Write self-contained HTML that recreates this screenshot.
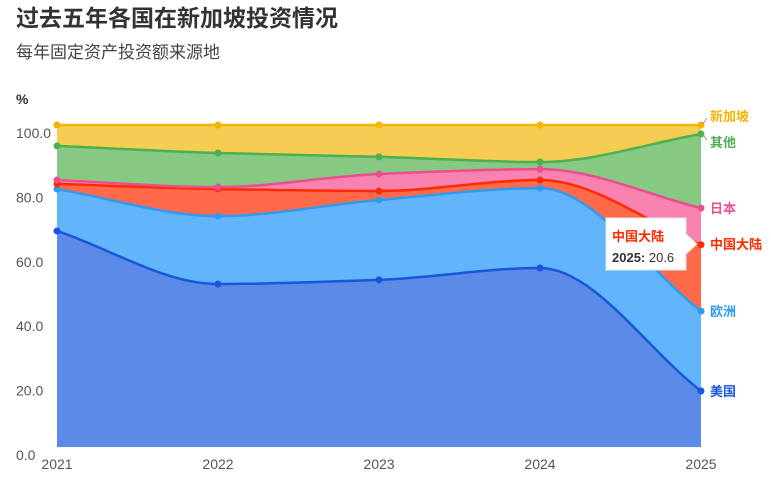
<!DOCTYPE html>
<html><head><meta charset="utf-8"><style>
body{margin:0;background:#fff;font-family:"Liberation Sans","Noto Sans CJK SC",sans-serif;}
svg text{font-family:"Liberation Sans","Noto Sans CJK SC",sans-serif;}
</style></head><body>
<svg id="c" width="771" height="483">
<text x="16" y="26" font-size="23" font-weight="bold" fill="#333">过去五年各国在新加坡投资情况</text>
<text x="16" y="58" font-size="17" fill="#444">每年固定资产投资额来源地</text>
<text x="16" y="104" font-size="14" font-weight="bold" fill="#333">%</text>
<g id="grid"></g><g id="areas"></g><g id="lines"></g><g id="labels"></g>
<g>
<path d="M606,218 H686 V234 L697,244 L686,254 V270 H606 Z" fill="#fff" stroke="#e6e6e6" stroke-width="1"/>
<text x="612" y="241" font-size="13" font-weight="bold" fill="#ff2a00">中国大陆</text>
<text x="612" y="262" font-size="13" fill="#333"><tspan font-weight="bold">2025:</tspan> 20.6</text>
</g>
</svg>
<script>
const years=["2021","2022","2023","2024","2025"];
const names=["美国","欧洲","中国大陆","日本","其他","新加坡"];
const usa=[67.1,50.6,51.9,55.6,17.4];
const europe=[13.0,21.1,24.8,24.8,24.8];
const china=[1.6,8.4,2.8,2.5,20.6];
const japan=[1.2,0.6,5.3,3.4,11.4];
const other=[10.6,10.6,5.3,2.2,23.0];
const singapore=[6.5,8.7,9.9,11.5,2.8];
const yTicks=["0.0","20.0","40.0","60.0","80.0","100.0"];
const series=[usa,europe,china,japan,other,singapore];
const lineC=["#1a56db","#2f9bf0","#ff2a00","#ec4d8c","#4caf50","#f5b400"];
const fillC=["#5b8be6","#62b4fb","#ff6a4a","#f882b0","#86c983","#f6cd52"];
const keys=["usa","europe","china","japan","other","singapore"];
const labY=[391,311,244,208,142,116];
const X=i=>57+i*(701-57)/(years.length-1);
const Y=v=>447-v*3.22;
const NS="http://www.w3.org/2000/svg";
function mk(t,a,p){const e=document.createElementNS(NS,t);for(const k in a)e.setAttribute(k,a[k]);p.appendChild(e);return e;}
function mono(pts){const n=pts.length;const d=[],m=[];for(let i=0;i<n-1;i++)d.push((pts[i+1][1]-pts[i][1])/(pts[i+1][0]-pts[i][0]));
m[0]=d[0];m[n-1]=d[n-2];for(let i=1;i<n-1;i++){m[i]=d[i-1]*d[i]<=0?0:3*(d[i-1]+d[i])/((2*d[i]+d[i-1])/d[i-1]+(d[i]+2*d[i-1])/d[i]);}
let s="";for(let i=0;i<n-1;i++){const h=(pts[i+1][0]-pts[i][0])/3;s+=`C${pts[i][0]+h},${pts[i][1]+m[i]*h} ${pts[i+1][0]-h},${pts[i+1][1]-m[i+1]*h} ${pts[i+1][0]},${pts[i+1][1]}`;}return s;}
const g=document.getElementById('grid');
yTicks.forEach((t,i)=>{const v=parseFloat(t);const l=mk('line',{x1:57,x2:701,y1:Y(v),y2:Y(v),stroke:"#eee"},g);


const tx=mk('text',{x:16,y:Y(v)+13,"font-size":14,fill:"#555"},g);tx.textContent=t;

});
years.forEach((y,i)=>{const tx=mk('text',{x:X(i),y:469,"font-size":14,fill:"#555","text-anchor":"middle"},g);tx.textContent=y;

});
let base=years.map(()=>0);
const A=document.getElementById('areas'),L=document.getElementById('lines'),Lb=document.getElementById('labels');
series.forEach((s,k)=>{const top=s.map((v,i)=>base[i]+v);
const tp=top.map((v,i)=>[X(i),Y(v)]);const bp=base.map((v,i)=>[X(i),Y(v)]).reverse();
const d=`M${tp[0][0]},${tp[0][1]}`+mono(tp)+`L${bp[0][0]},${bp[0][1]}`+mono(bp)+"Z";
const a=mk('path',{d:d,fill:fillC[k]},A);


const ln=mk('path',{d:`M${tp[0][0]},${tp[0][1]}`+mono(tp),fill:"none",stroke:lineC[k],"stroke-width":2.5},L);


tp.forEach(p=>{const c=mk('circle',{cx:p[0],cy:p[1],r:3.5,fill:lineC[k]},L);

});
const t=mk('text',{x:710,y:labY[k]+5,"font-size":13,"font-weight":"bold",fill:lineC[k]},Lb);t.textContent=names[k];


base=top;});
mk('path',{d:"M703,124 L707,118 M703,135 L707,140",stroke:"#999","stroke-width":1},Lb);
</script>
</body></html>
